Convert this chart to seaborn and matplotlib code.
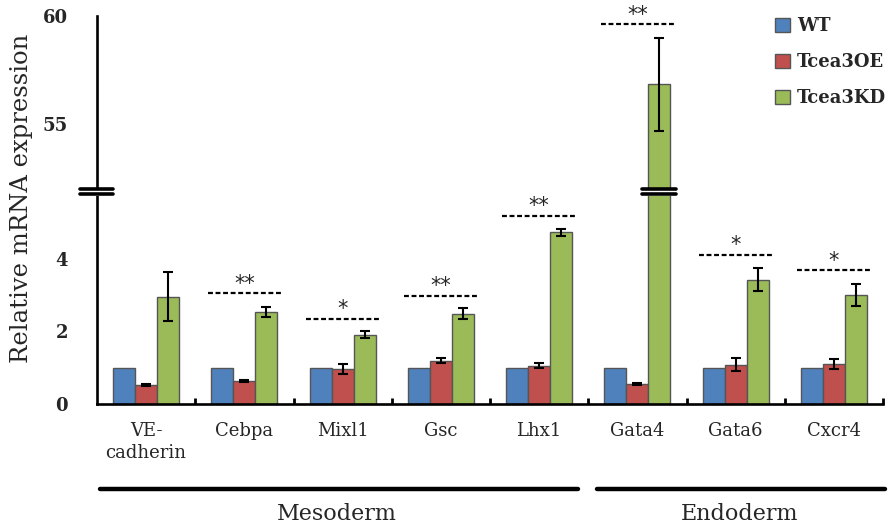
import matplotlib

matplotlib.use("Agg")

import matplotlib.pyplot as plt
import matplotlib.transforms as mtransforms
from matplotlib.lines import Line2D
from matplotlib.patches import Patch, Rectangle
import numpy as np
import pandas as pd
import seaborn as sns

genes = ["VE-\ncadherin", "Cebpa", "Mixl1", "Gsc", "Lhx1", "Gata4", "Gata6", "Cxcr4"]
groups = ["WT", "Tcea3OE", "Tcea3KD"]
wt = [1.0, 1.0, 1.0, 1.0, 1.0, 1.0, 1.0, 1.0]
oe = [0.52, 0.64, 0.96, 1.19, 1.06, 0.55, 1.08, 1.10]
kd = [2.96, 2.54, 1.91, 2.49, 4.73, 56.85, 3.43, 3.01]
wt_err = [0, 0, 0, 0, 0, 0, 0, 0]
oe_err = [0.02, 0.03, 0.14, 0.07, 0.07, 0.02, 0.18, 0.13]
kd_err = [0.67, 0.14, 0.09, 0.15, 0.09, 2.15, 0.32, 0.30]
sig_marks = ["", "**", "*", "**", "**", "**", "*", "*"]
sig_level = [np.nan, 3.06, 2.35, 2.99, 5.19, 59.63, 4.12, 3.68]
lineages = ["Mesoderm", "Endoderm"]
lineage_span = [(-0.47, 4.40), (4.59, 7.52)]
palette = ["#4F81BD", "#C0504D", "#9BBB59"]

df = pd.DataFrame({
    "gene": genes * 3,
    "group": np.repeat(groups, len(genes)),
    "value": wt + oe + kd,
})
errs = [wt_err, oe_err, kd_err]

sns.set_theme(style="white")
plt.rcParams["font.family"] = ["DejaVu Serif", "DejaVu Sans"]

W, H = 891, 525
fig = plt.figure(figsize=(W / 100, H / 100), dpi=100)
ax_bot = fig.add_axes([97 / W, 1 - 404 / H, 786 / W, (404 - 191) / H])
ax_top = fig.add_axes([97 / W, 1 - 191 / H, 786 / W, (191 - 16) / H])

for ax in (ax_bot, ax_top):
    sns.barplot(data=df, x="gene", y="value", hue="group", palette=palette,
                width=0.67, errorbar=None, edgecolor="#555555", linewidth=1.0,
                saturation=1, legend=False, ax=ax)
    bar_conts = list(ax.containers)
    for j, cont in enumerate(bar_conts):
        for i, bar in enumerate(cont):
            if errs[j][i] > 0:
                ax.errorbar(bar.get_x() + bar.get_width() / 2, bar.get_height(),
                            yerr=errs[j][i], fmt="none", ecolor="black",
                            elinewidth=1.5, capsize=3.5, capthick=1.5)
    ax.set_xlim(-0.5, len(genes) - 0.5)
    ax.set_xlabel("")
    ax.set_ylabel("")
    for s in ("top", "right"):
        ax.spines[s].set_visible(False)
    ax.spines["left"].set_linewidth(1.9)
    ax.spines["left"].set_color("black")
    ax.tick_params(axis="y", direction="in", length=5, width=1.8, color="black",
                   pad=21, labelsize=13)

ax_bot.set_ylim(0, 5.87)
ax_top.set_ylim(51.9, 60)
ax_bot.set_yticks([0, 2, 4])
ax_top.set_yticks([55, 60])
for ax in (ax_bot, ax_top):
    for lab in ax.get_yticklabels():
        lab.set_fontweight("bold")
ax_top.spines["bottom"].set_visible(False)
ax_top.set_xticks([])
ax_bot.spines["bottom"].set_linewidth(1.9)
ax_bot.spines["bottom"].set_color("black")
ax_bot.set_xticks(range(len(genes)))
ax_bot.set_xticklabels(genes, fontsize=13, va="top", linespacing=1.25)
ax_bot.tick_params(axis="x", length=0, pad=13)
ax_bot.set_xticks(np.arange(0.5, len(genes), 1.0), minor=True)
ax_bot.tick_params(axis="x", which="minor", direction="in", length=4, width=2,
                   color="black", bottom=True)

# significance lines
for i, (mark, lvl) in enumerate(zip(sig_marks, sig_level)):
    if not mark:
        continue
    ax = ax_top if lvl > 50 else ax_bot
    ax.plot([i - 0.375, i + 0.375], [lvl, lvl], color="black", lw=1.6,
            ls=(0, (2.2, 1.2)), clip_on=False)
    ax.annotate(mark, (i, lvl), xytext=(0, -0.5), textcoords="offset points",
                ha="center", va="bottom", fontsize=15, family="DejaVu Sans",
                annotation_clip=False)

# lineage brackets
btrans = mtransforms.blended_transform_factory(ax_bot.transData, ax_bot.transAxes)
for name, (x0, x1) in zip(lineages, lineage_span):
    ax_bot.add_line(Line2D([x0, x1], [-0.40, -0.40], color="black", lw=3.2,
                           transform=btrans, clip_on=False))
    ax_bot.text((x0 + x1) / 2 - 0.02, -0.515, name, transform=btrans, ha="center",
                va="center", fontsize=16)

# y axis label
fig.text(22 / W, 1 - 198 / H, "Relative mRNA expression", rotation=90,
         ha="center", va="center", fontsize=17.5)

# axis break marks
def break_mark(trans, x0, x1):
    fig.add_artist(Rectangle((x0, 1 - 196 / H), x1 - x0, 8 / H, transform=trans,
                             facecolor="white", edgecolor="none", zorder=10))
    for yp in (189, 194.5):
        fig.add_artist(Line2D([x0, x1], [1 - yp / H, 1 - yp / H], color="black",
                              lw=2.6, transform=trans, zorder=11))

break_mark(fig.transFigure, 80 / W, 113 / W)
bar = ax_bot.containers[2][5]
gtrans = mtransforms.blended_transform_factory(ax_bot.transData, fig.transFigure)
break_mark(gtrans, bar.get_x() - 0.06, bar.get_x() + bar.get_width() + 0.06)

handles = [Patch(facecolor=c, edgecolor="#555555", label=g) for c, g in zip(palette, groups)]
fig.legend(handles=handles, loc="upper left", bbox_to_anchor=(759 / W, 1 - 1 / H),
           frameon=False, prop={"weight": "bold", "size": 13},
           handlelength=0.8, handleheight=0.8, handletextpad=0.4, labelspacing=1.0)

fig.savefig("out.png", dpi=100)
